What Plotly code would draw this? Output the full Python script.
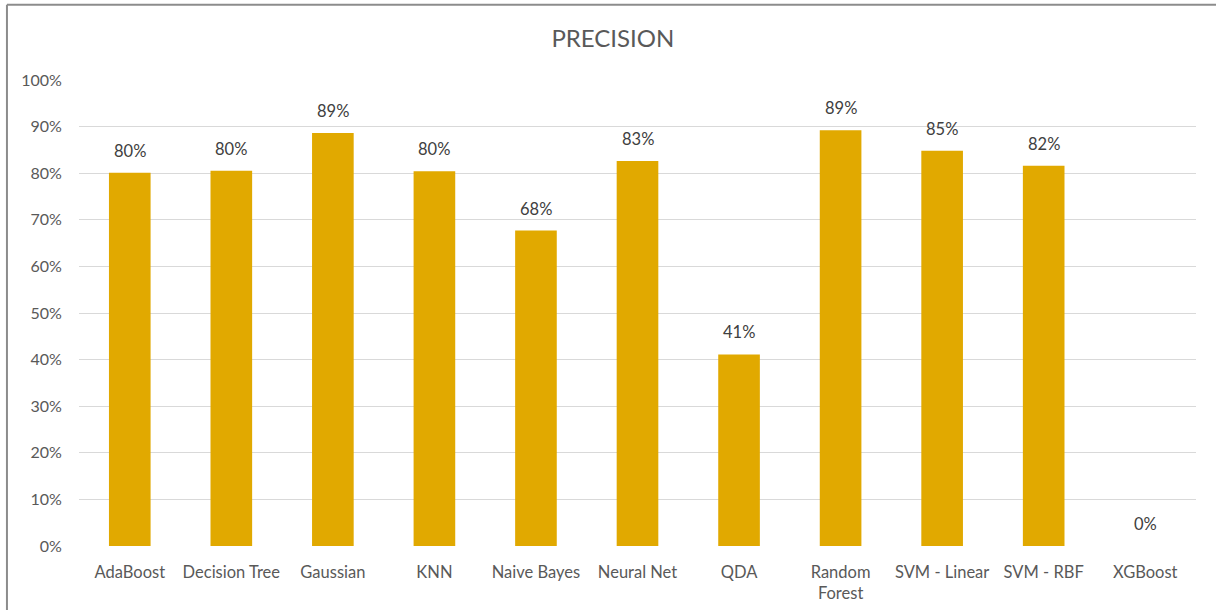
import plotly.graph_objects as go

models = ["AdaBoost", "Decision Tree", "Gaussian", "KNN", "Naive Bayes", "Neural Net",
          "QDA", "Random Forest", "SVM - Linear", "SVM - RBF", "XGBoost"]
tick_labels = ["AdaBoost", "Decision Tree", "Gaussian", "KNN", "Naive Bayes", "Neural Net",
               "QDA", "Random<br>Forest", "SVM - Linear", "SVM - RBF", "XGBoost"]
precision = [0.801, 0.805, 0.886, 0.804, 0.677, 0.826, 0.411, 0.892, 0.848, 0.816, 0.0]

BAR = "#E1A900"
FONT = "Lato, 'Open Sans', sans-serif"

fig = go.Figure(go.Bar(
    x=models, y=precision, marker=dict(color=BAR, line=dict(width=0)),
    width=0.41, hoverinfo="skip",
))

# value labels above each bar
for m, v in zip(models, precision):
    fig.add_annotation(x=m, y=v, text=f"{v:.0%}", showarrow=False,
                       yanchor="bottom", yshift=10,
                       font=dict(family=FONT, size=16.5, color="#404040"))

fig.update_layout(
    width=1216, height=610,
    margin=dict(l=79, r=20, t=80, b=64),
    paper_bgcolor="white", plot_bgcolor="white",
    showlegend=False,
    title=dict(text="PRECISION", x=0.504, xanchor="center", y=0.936, yanchor="middle",
               font=dict(family=FONT, size=24, color="#595959")),
    xaxis=dict(tickmode="array", tickvals=models, ticktext=tick_labels,
               showgrid=False, showline=False, zeroline=False, automargin=False,
               ticks="outside", ticklen=11, tickcolor="rgba(0,0,0,0)",
               tickfont=dict(family=FONT, size=16.5, color="#595959")),
    yaxis=dict(range=[0, 1.0], tickvals=[i / 10 for i in range(11)], tickformat=".0%",
               showgrid=True, gridcolor="#D9D9D9", gridwidth=1,
               zeroline=False, showline=False, automargin=False,
               ticks="outside", ticklen=13, tickcolor="rgba(0,0,0,0)",
               tickfont=dict(family=FONT, size=16, color="#595959")),
    shapes=[
        dict(type="line", xref="paper", yref="paper", x0=-0.0645, x1=1.1, y0=1.1613, y1=1.1613,
             line=dict(color="#8C8C8C", width=2)),
        dict(type="line", xref="paper", yref="paper", x0=-0.0645, x1=-0.0645, y0=1.1613, y1=-0.2,
             line=dict(color="#8C8C8C", width=2)),
    ],
)

fig.write_html("out.html")
